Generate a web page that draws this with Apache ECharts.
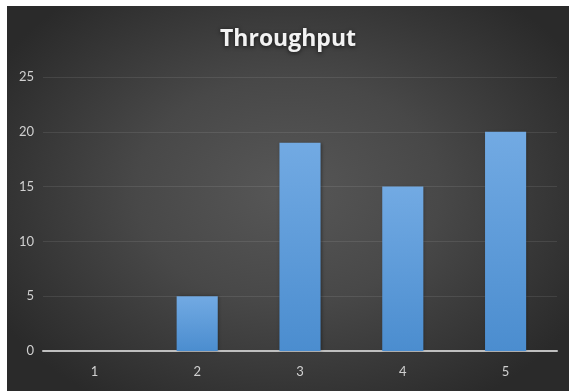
<!DOCTYPE html>
<html>
<head>
<meta charset="utf-8">
<script src="https://cdn.jsdelivr.net/npm/echarts@6/dist/echarts.min.js"></script>
<style>
  html, body { margin: 0; padding: 0; background: #ffffff; }
  #chart {
    position: absolute; left: 7px; top: 6px; width: 562px; height: 385px;
    background: radial-gradient(ellipse 60% 65% at 50% 48%, #575757 0%, #484848 45%, #2a2a2a 100%);
  }
</style>
</head>
<body>
<div id="chart"></div>
<script>
const categories = ['1', '2', '3', '4', '5'];
const throughput = [0, 5, 19, 15, 20];
const yTicks = { min: 0, max: 25, interval: 5 };

const chart = echarts.init(document.getElementById('chart'), null, { renderer: 'canvas' });
chart.setOption({
  animation: false,
  backgroundColor: 'transparent',
  title: {
    text: 'Throughput',
    left: 'center',
    top: 17,
    textStyle: {
      color: '#f2f2f2',
      fontFamily: 'Open Sans',
      fontWeight: 'bold',
      fontSize: 23,
      textShadowColor: 'rgba(0,0,0,0.7)',
      textShadowBlur: 4,
      textShadowOffsetY: 1
    }
  },
  grid: { left: 36, right: 12, top: 71, bottom: 40 },
  xAxis: {
    type: 'category',
    data: categories,
    axisLine: { lineStyle: { color: '#bfbfbf', width: 2 } },
    axisTick: { show: false },
    axisLabel: { color: '#d0d0d0', fontFamily: 'Lato', fontSize: 13, margin: 14 }
  },
  yAxis: {
    type: 'value',
    min: yTicks.min,
    max: yTicks.max,
    interval: yTicks.interval,
    axisLine: { show: false },
    axisTick: { show: false },
    axisLabel: { color: '#d0d0d0', fontFamily: 'Lato', fontSize: 13, margin: 9 },
    splitLine: { lineStyle: { color: 'rgba(255,255,255,0.09)', width: 1 } }
  },
  series: [{
    type: 'bar',
    data: throughput,
    barWidth: '40%',
    itemStyle: {
      color: new echarts.graphic.LinearGradient(0, 0, 0, 1, [
        { offset: 0, color: '#72aae3' },
        { offset: 1, color: '#4b8dcf' }
      ]),
      shadowColor: 'rgba(0,0,0,0.35)',
      shadowBlur: 3,
      shadowOffsetX: 1
    }
  }]
});
</script>
</body>
</html>
